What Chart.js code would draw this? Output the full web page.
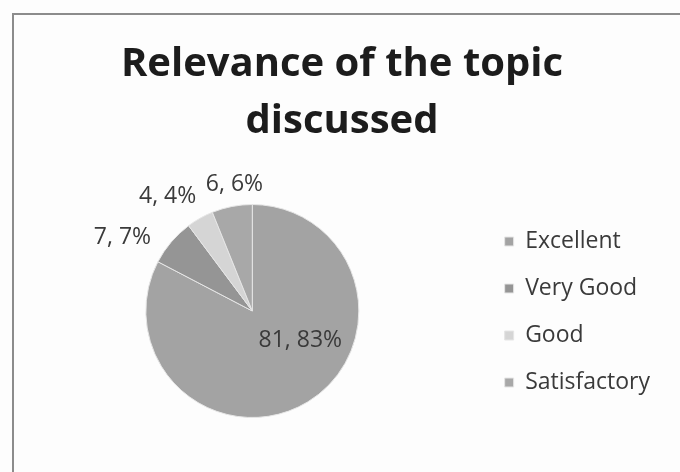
<!DOCTYPE html>
<html>
<head>
<meta charset="utf-8">
<script src="https://cdn.jsdelivr.net/npm/chart.js@4"></script>
<style>
  html, body { margin: 0; padding: 0; background: #fdfdfd; }
  #wrap { position: relative; width: 680px; height: 472px; overflow: hidden; }
  #frame {
    position: absolute; left: 12px; top: 13px; width: 700px; height: 500px;
    border-left: 2px solid #8c8c8c; border-top: 2px solid #8c8c8c;
    pointer-events: none;
  }
  canvas { position: absolute; left: 0; top: 0; }
</style>
</head>
<body>
<div id="wrap">
  <canvas id="pie" width="680" height="472"></canvas>
  <div id="frame"></div>
</div>
<script>
// Relevance of the topic discussed — pie chart from a scanned report

const CATEGORIES = ["Excellent", "Very Good", "Good", "Satisfactory"];
const COUNTS = [81, 7, 4, 6];
const PERCENTS = [83, 7, 4, 6];
const TITLE_LINES = ["Relevance of the topic", "discussed"];

const SLICE_COLORS = ["#a3a3a3", "#959595", "#d5d5d5", "#a8a8a8"];
const FONT = "'Open Sans', 'Noto Sans', sans-serif";

// Labels sit near each slice; angle nudge (deg) and radius factor per slice,
// mimicking Excel's "best fit" placement.
const LABEL_NUDGE_DEG = [-27, -11, -7, 3];
const LABEL_RADIUS = [0.53, 1.40, 1.34, 1.20];

const sliceLabels = {
  id: "sliceLabels",
  afterDatasetsDraw(chart) {
    const ctx = chart.ctx;
    const meta = chart.getDatasetMeta(0);
    ctx.save();
    ctx.font = "23px " + FONT;
    ctx.fillStyle = "#3a3a3a";
    ctx.textAlign = "center";
    ctx.textBaseline = "middle";
    meta.data.forEach((arc, i) => {
      const p = arc.getProps(["x", "y", "startAngle", "endAngle", "outerRadius"], true);
      const mid = (p.startAngle + p.endAngle) / 2 + LABEL_NUDGE_DEG[i] * Math.PI / 180;
      const r = p.outerRadius * LABEL_RADIUS[i];
      const x = p.x + Math.cos(mid) * r;
      const y = p.y + Math.sin(mid) * r;
      ctx.fillText(COUNTS[i] + ", " + PERCENTS[i] + "%", x, y);
    });
    ctx.restore();
  }
};

new Chart(document.getElementById("pie"), {
  type: "pie",
  data: {
    labels: CATEGORIES,
    datasets: [{
      data: COUNTS,
      backgroundColor: SLICE_COLORS,
      borderColor: "#e6e6e6",
      borderWidth: 1,
    }],
  },
  options: {
    responsive: false,
    animation: false,
    layout: { padding: { left: 24, right: 20, top: 0, bottom: 54 } },
    plugins: {
      title: {
        display: true,
        text: TITLE_LINES,
        color: "#1c1c1c",
        font: { family: FONT, size: 40, weight: "bold", lineHeight: 1.425 },
        padding: { top: 36, bottom: 54 },
      },
      legend: {
        position: "right",
        align: "end",
        labels: {
          color: "#3a3a3a",
          boxWidth: 9,
          boxHeight: 9,
          padding: 24,
          font: { family: FONT, size: 23 },
        },
      },
      tooltip: { enabled: false },
    },
  },
  plugins: [sliceLabels],
});
</script>
</body>
</html>
